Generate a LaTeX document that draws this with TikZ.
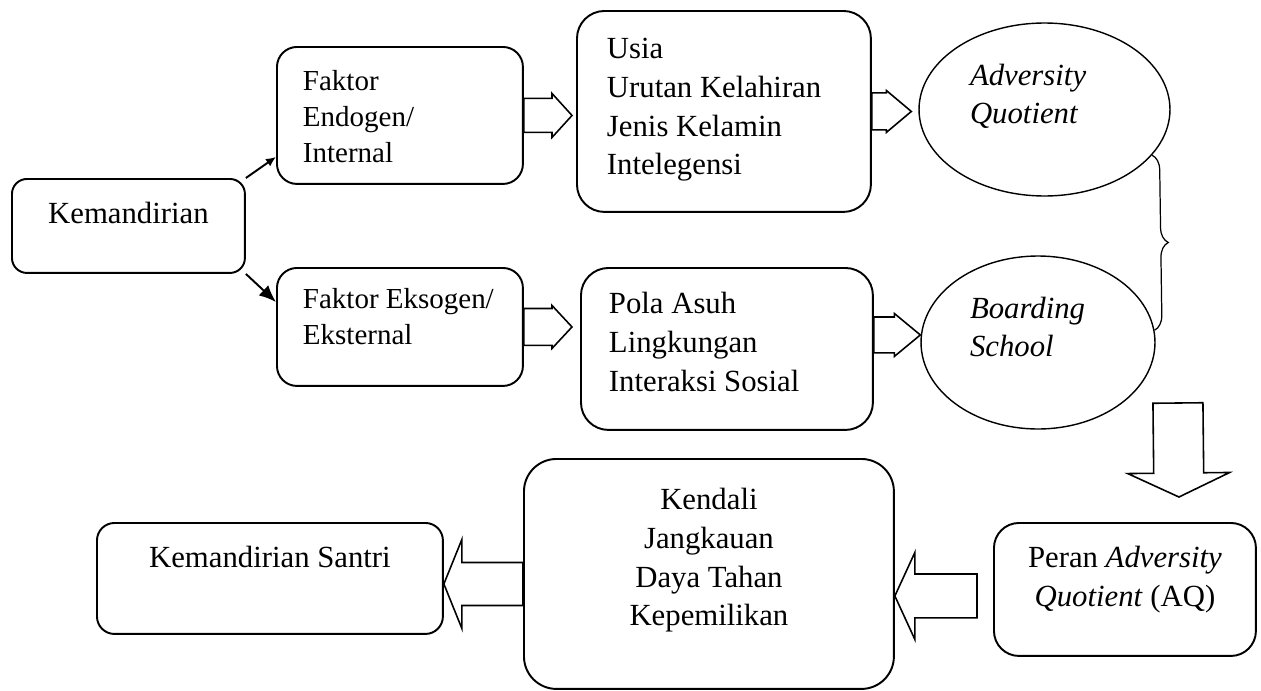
\documentclass[tikz,border=0pt]{standalone}
\usepackage{fontspec}
\setmainfont{Liberation Serif}
\usepackage{tikz}
\usetikzlibrary{shapes,arrows.meta,positioning,calc,decorations.pathreplacing}

\newcommand{\bigfont}{\fontsize{17.5pt}{22pt}\selectfont}
\newcommand{\smallfont}{\fontsize{16.5pt}{20.5pt}\selectfont}

% hollow block arrow: tail, tip, shaft half width, head half width, head length
\newcommand{\blockarrow}[5]{%
  \path ($(#2)!#5!(#1)$) coordinate (ba-head);
  \draw[barrow] ($(#1)!#3!90:(#2)$) -- ($(ba-head)!#3!90:(#2)$)
    -- ($(ba-head)!#4!90:(#2)$) -- (#2) -- ($(ba-head)!#4!-90:(#2)$)
    -- ($(ba-head)!#3!-90:(#2)$) -- ($(#1)!#3!-90:(#2)$) -- cycle;
}

\begin{document}
\begin{tikzpicture}[
    x=0.02cm, y=-0.02cm,
    box/.style={draw, line width=1.1pt, anchor=north west, inner ysep=0pt, inner xsep=0pt, align=flush center, font=\bigfont},
    oval/.style={draw, ellipse, line width=0.8pt, inner sep=0pt, align=flush left, text height=0.51cm, text depth=1.49cm, font=\bigfont\itshape},
    line/.style={draw, line width=1.1pt},
    barrow/.style={draw, line width=0.9pt, line join=miter},
    brace/.style={draw, line width=0.7pt, decorate, decoration={brace, amplitude=0.3cm}}
]
\useasboundingbox (0,0) rectangle (1261,690);

% Faktor-faktor
\node[box, rounded corners=0.3cm, text width=4.66cm, text height=0.9cm, text depth=0.98cm] (kem) at (11,178) {Kemandirian};
\node[box, rounded corners=0.4cm, align=flush left, font=\smallfont, inner xsep=0.52cm, text width=3.88cm, text height=0.88cm, text depth=1.86cm] (endo) at (276,46) {Faktor\\Endogen/\\Internal};
\node[box, rounded corners=0.4cm, align=flush left, font=\smallfont, inner xsep=0.52cm, text width=3.88cm, text height=0.82cm, text depth=1.54cm] (ekso) at (276,267) {Faktor Eksogen/\\Eksternal};

% Isi faktor
\node[box, rounded corners=0.55cm, align=flush left, inner xsep=0.6cm, text width=4.68cm, text height=0.96cm, text depth=3.06cm] (usia) at (576,10) {Usia\\Urutan Kelahiran\\Jenis Kelamin\\Intelegensi};
\node[box, rounded corners=0.55cm, align=flush left, inner xsep=0.56cm, text width=4.72cm, text height=0.92cm, text depth=2.32cm] (pola) at (580,267) {Pola Asuh\\Lingkungan\\Interaksi Sosial};

% AQ dan boarding school
\node[oval, minimum width=5.02cm, minimum height=3.46cm, text width=2.98cm] (aq) at (1044.5,109.5) {Adversity\\Quotient};
\node[oval, minimum width=4.68cm, minimum height=3.46cm, text width=2.72cm] (bs) at (1038,342.5) {Boarding\\School};

% Baris bawah
\node[box, rounded corners=0.5cm, text width=5.24cm, text height=0.9cm, text depth=1.76cm] (peran) at (993,522) {Peran \textit{Adversity}\\\textit{Quotient} (AQ)};
\node[box, rounded corners=0.65cm, text width=7.4cm, text height=1.02cm, text depth=3.58cm] (kendali) at (523,458) {Kendali\\Jangkauan\\Daya Tahan\\Kepemilikan};
\node[box, rounded corners=0.35cm, text width=6.92cm, text height=0.9cm, text depth=1.32cm] (santri) at (96,522) {Kemandirian Santri};

% Panah
\path[line, -{Latex[length=0.2cm, width=0.18cm]}] (kem.north east) -- ($(endo.south west)+(0,-28)$);
\path[line, -{Latex[length=0.34cm, width=0.28cm]}] (kem.south east) -- ($(ekso.north west)+(0,35)$);

\coordinate (a1-tip) at ($(usia.west |- endo.east)+(-4,0)$);
\blockarrow{endo.east}{a1-tip}{0.34cm}{0.44cm}{0.40cm}
\coordinate (a2-tip) at ($(pola.west |- ekso.east)+(-8,0)$);
\blockarrow{ekso.east}{a2-tip}{0.37cm}{0.43cm}{0.40cm}
\coordinate (a3-tip) at ($(aq.west |- usia.east)+(-7,0)$);
\blockarrow{usia.east}{a3-tip}{0.37cm}{0.42cm}{0.50cm}
\coordinate (a4-tail) at ($(pola.east)+(0,-14)$);
\coordinate (a4-tip) at (bs.west |- a4-tail);
\blockarrow{a4-tail}{a4-tip}{0.36cm}{0.43cm}{0.52cm}

\path[brace] (aq.-23) -- (bs.6);

\coordinate (a5-tail) at ($(peran.north)+(53,-119)$);
\coordinate (a5-tip) at ($(peran.north)+(54,-25)$);
\blockarrow{a5-tail}{a5-tip}{0.50cm}{1.02cm}{0.48cm}
\coordinate (a6-tail) at ($(peran.west)+(-16,6.5)$);
\coordinate (a6-tip) at (kendali.east |- a6-tail);
\blockarrow{a6-tail}{a6-tip}{0.44cm}{0.87cm}{0.40cm}
\coordinate (a7-tip) at ($(santri.east)+(0,5.5)$);
\coordinate (a7-tail) at (kendali.west |- a7-tip);
\blockarrow{a7-tail}{a7-tip}{0.43cm}{0.89cm}{0.36cm}

\end{tikzpicture}
\end{document}
